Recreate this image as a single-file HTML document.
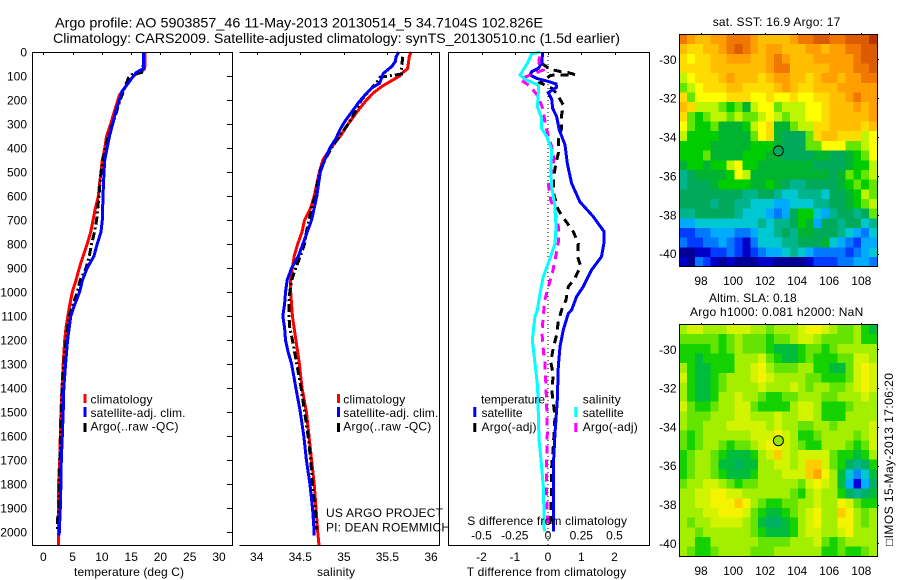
<!DOCTYPE html>
<html>
<head>
<meta charset="utf-8">
<title>Argo profile</title>
<style>
html,body{margin:0;padding:0;background:#fff;}
svg{display:block;}
text{font-family:"Liberation Sans",sans-serif;font-size:12px;fill:#000;}
</style>
</head>
<body>
<svg id="fig" xmlns="http://www.w3.org/2000/svg" width="900" height="580" viewBox="0 0 900 580">
<rect width="900" height="580" fill="#fff"/>
<text x="55" y="27.5" style="font-size:14px" textLength="488" lengthAdjust="spacingAndGlyphs">Argo profile: AO 5903857_46 11-May-2013 20130514_5 34.7104S 102.826E</text>
<text x="53" y="43" style="font-size:14px" textLength="567" lengthAdjust="spacingAndGlyphs">Climatology: CARS2009. Satellite-adjusted climatology: synTS_20130510.nc (1.5d earlier)</text>
<g id="marks"></g>
<g id="axes" fill="none" stroke="#000" stroke-width="1" shape-rendering="crispEdges">
<path d="M32.5 52.5H232.5V545.5H32.5Z"/>
<path d="M239.5 52.5H439.5V545.5H239.5"/>
<path d="M448.5 52.5H649.5V545.5H448.5Z"/>
<path d="M679.5 34.5H877.5V266.5H679.5Z"/>
<path d="M679.5 324.5H877.5V556.5H679.5Z"/>
</g>
<g id="ticklabels"></g>
<text x="129" y="576" text-anchor="middle" textLength="110">temperature (deg C)</text>
<text x="336" y="576" text-anchor="middle" textLength="38">salinity</text>
<text x="466.7" y="576" textLength="159.5">T difference from climatology</text>
<text x="467.3" y="525" textLength="159.7">S difference from climatology</text>

<g>
<rect x="83.5" y="394" width="3" height="9" fill="#f00"/>
<rect x="83.5" y="407" width="3" height="10" fill="#00f"/>
<rect x="83.5" y="423" width="3" height="9" fill="#000"/>
<text x="90.5" y="403.5" textLength="62">climatology</text>
<text x="90.5" y="417" textLength="95">satellite-adj. clim.</text>
<text x="90.5" y="430.5" textLength="88">Argo(..raw -QC)</text>
</g>
<g>
<rect x="337" y="394" width="3" height="9" fill="#f00"/>
<rect x="337" y="407" width="3" height="10" fill="#00f"/>
<rect x="337" y="423" width="3" height="9" fill="#000"/>
<text x="343.3" y="403.5" textLength="62">climatology</text>
<text x="343.3" y="417" textLength="95">satellite-adj. clim.</text>
<text x="343.3" y="430.5" textLength="88">Argo(..raw -QC)</text>
</g>
<g>
<rect x="473.3" y="407" width="3" height="10" fill="#00f"/>
<rect x="473.3" y="423" width="3" height="9" fill="#000"/>
<rect x="574.3" y="407" width="3" height="10" fill="#0ff"/>
<rect x="574.3" y="423" width="3" height="9" fill="#f0f"/>
<text x="481" y="403.5" textLength="64">temperature</text>
<text x="481.5" y="417" textLength="41">satellite</text>
<text x="481.5" y="431" textLength="55">Argo(-adj)</text>
<text x="582.7" y="403.5" textLength="38">salinity</text>
<text x="582.7" y="417" textLength="41">satellite</text>
<text x="582.7" y="431" textLength="55">Argo(-adj)</text>
</g>
<text x="326" y="517" textLength="117">US ARGO PROJECT</text>
<text x="326" y="531.5" textLength="124">PI: DEAN ROEMMICH</text>
<text x="712.7" y="26" textLength="127.6">sat. SST: 16.9 Argo: 17</text>
<text x="709" y="302" textLength="87.7">Altim. SLA: 0.18</text>
<text x="690" y="316" textLength="173.3">Argo h1000: 0.081 h2000: NaN</text>
<text transform="translate(893 546) rotate(-90)" x="0" y="0" textLength="173">□IMOS 15-May-2013 17:06:20</text>
</svg>
<script>
// Depth axis and tick labels
const depthTicks = [0,100,200,300,400,500,600,700,800,900,1000,1100,1200,1300,1400,1500,1600,1700,1800,1900,2000];
const tempTicks = [0,5,10,15,20,25,30];
const salTicks = [34,34.5,35,35.5,36];
const tDiffTicks = [-2,-1,0,1,2];
const sDiffTicks = [-0.5,-0.25,0,0.25,0.5];
const lonTicks = [98,100,102,104,106,108];
const latTicks = [-30,-32,-34,-36,-38,-40];

// Temperature profiles (deg C)
const tempClimDepth = [0,50,70,100,130,180,250,300,350,400,450,500,550,600,650,700,750,800,850,900,950,1000,1050,1100,1150,1200,1300,1400,1500,1600,1700,1800,1900,2000,2055];
const tempClimValues = [17.36,17.4,17.3,15.4,14.5,13,12.1,11.5,10.8,10.5,10.07,9.85,9.6,9.4,8.9,8.5,8.1,7.5,6.8,6.15,5.6,4.95,4.55,4.2,3.87,3.65,3.4,3.2,3,2.9,2.8,2.6,2.56,2.56,2.56];
const tempSatDepth = [0,50,70,85,100,130,165,200,250,300,350,400,450,500,600,700,750,800,850,900,950,1000,1050,1100,1200,1300,1400,1500,1600,1700,1800,1900,2000,2015];
const tempSatValues = [17.07,17.13,17.07,15.9,15.4,14.5,13.4,13,12.35,11.85,11.3,10.9,10.5,10.36,10.2,10.07,9.85,9.2,8.65,7.5,6.7,6.2,5.4,4.7,4.15,3.8,3.5,3.4,3.25,3.07,3,2.9,2.73,2.7];
const tempArgoDepth = [10,50,85,95,110,130,165,200,250,300,350,400,450,500,600,700,750,800,850,900,950,1000,1050,1100,1200,1300,1400,1500,1600,1700,1800,1900,1950,1990];
const tempArgoValues = [17.1,17.1,16.8,15.1,14.5,14.2,13.7,13.1,12.5,11.8,11.1,10.6,10.2,9.85,9.5,9.1,8.75,8.25,7.85,7.3,6.3,5.8,5.1,4.4,3.9,3.5,3.2,3.1,2.95,2.85,2.75,2.7,2.4,2.4];

// Salinity profiles
const salClimDepth = [0,20,50,70,90,100,115,140,170,200,250,300,350,400,450,500,550,600,650,700,750,800,850,900,950,1000,1100,1200,1300,1400,1500,1600,1700,1800,1900,2000,2055];
const salClimValues = [35.77,35.75,35.74,35.73,35.66,35.64,35.57,35.45,35.34,35.26,35.15,35.05,34.96,34.85,34.76,34.72,34.69,34.66,34.62,34.55,34.52,34.47,34.43,34.41,34.39,34.39,34.41,34.45,34.49,34.52,34.57,34.6,34.63,34.66,34.68,34.7,34.715];
const salSatDepth = [0,20,40,60,90,130,150,180,210,250,290,320,360,400,450,500,600,650,700,750,800,850,900,950,1000,1050,1100,1150,1200,1250,1300,1400,1500,1600,1700,1800,1900,2000,2015];
const salSatValues = [35.63,35.6,35.59,35.55,35.45,35.41,35.32,35.24,35.17,35.09,35.01,34.96,34.91,34.84,34.78,34.73,34.69,34.66,34.63,34.58,34.53,34.48,34.4,34.35,34.33,34.32,34.3,34.32,34.33,34.36,34.4,34.45,34.5,34.54,34.57,34.61,34.64,34.66,34.66];
const salArgoDepth = [20,50,85,92,97,105,125,150,200,250,300,350,400,450,500,600,650,700,750,800,850,900,950,1000,1050,1100,1150,1200,1300,1400,1500,1600,1700,1800,1900,1990];
const salArgoValues = [35.675,35.667,35.66,35.66,35.57,35.415,35.38,35.32,35.2,35.13,35.05,34.95,34.86,34.78,34.72,34.67,34.63,34.6,34.57,34.55,34.5,34.45,34.4,34.38,34.37,34.37,34.38,34.41,34.46,34.51,34.55,34.59,34.62,34.64,34.67,34.69];

// Differences from climatology
const tDiffSatDepth = [0,47,68,82,96,110,121,133,147,169,197,235,269,325,387,464,547,624,686,749,797,853,908,978,1019,1075,1089,1158,1228,1311,1450,1589,1727,1866,1998];
const tDiffSatValues = [-0.16,-0.19,-0.29,-0.49,-0.54,-0.34,-0.04,0.24,0.26,0.01,0.11,0.14,0.26,0.34,0.51,0.58,0.71,0.96,1.36,1.69,1.68,1.61,1.31,1.06,0.86,0.71,0.61,0.46,0.36,0.31,0.28,0.21,0.16,0.16,0.16];
const tDiffArgoDepth = [47,72,81,86,94,97,128,151,172,221,263,318,367,422,485,547,596,658,700,749,797,853,892,943,978,1033,1075,1123,1179,1234,1290,1346,1408,1519,1644,1727,1839,1922,1977];
const tDiffArgoValues = [-0.19,0.06,0.36,0.61,0.81,0.08,-0.24,0.11,0.26,0.46,0.41,0.41,0.31,0.31,0.21,0.16,0.18,0.31,0.51,0.76,0.91,0.89,0.98,0.81,0.61,0.54,0.41,0.31,0.26,0.16,0.08,0.16,0.11,0.21,0.16,0.11,0.11,0.08,0.06];
const sDiffSatDepth = [0,8,47,96,114,138,172,228,276,318,353,408,492,561,644,728,797,860,936,1006,1075,1102,1200,1297,1394,1505,1616,1700,1811,1922,1998];
const sDiffSatValues = [-0.06,-0.123,-0.155,-0.21,-0.173,-0.073,-0.073,-0.08,-0.048,-0.048,-0.01,0.028,0.02,0.028,0.053,0.06,0.053,0.015,-0.035,-0.06,-0.08,-0.098,-0.118,-0.098,-0.078,-0.073,-0.068,-0.053,-0.035,-0.03,-0.028];
const sDiffArgoDepth = [19,47,75,96,114,142,186,235,290,353,394,443,499,554,617,665,728,790,853,915,978,1033,1095,1172,1241,1297,1394,1477,1589,1700,1839,1922,1977];
const sDiffArgoValues = [-0.065,-0.068,-0.035,-0.135,-0.21,-0.135,-0.073,-0.04,-0.023,0.003,0.028,0.045,0.028,0.003,0.02,0.053,0.078,0.078,0.058,0.035,0.003,-0.023,-0.035,-0.045,-0.035,-0.023,-0.015,-0.01,-0.005,-0.01,-0.01,-0.005,0.003];

// Argo float position
const floatLon = [102.826];
const floatLat = [-34.7104];

// SST map, colour-scale levels (0 coldest .. 20 warmest), north to south
const sstRows = [
[17,16,15,15,16,16,17,17,17,16,15,15,15,15,16,17,17,18,18,17,17,18,18,18,19],
[15,14,14,15,15,16,17,18,17,16,15,16,16,15,15,15,16,16,15,16,16,17,17,18,18],
[14,13,14,14,15,15,16,16,16,15,15,16,17,16,15,15,15,16,16,16,16,16,17,18,18],
[14,14,14,14,15,15,15,15,15,15,15,16,17,17,15,15,15,15,15,16,16,16,17,17,18],
[12,13,14,14,14,15,16,15,15,15,14,15,16,16,15,15,14,15,16,16,15,16,16,17,17],
[11,12,13,14,14,14,15,15,14,14,14,14,15,16,15,14,14,15,15,15,16,16,16,16,16],
[14,11,13,13,13,13,14,14,14,13,13,14,13,13,14,13,13,14,14,15,15,16,17,16,16],
[15,14,12,12,12,11,10,11,9,12,13,13,11,12,12,12,13,13,14,15,15,15,16,15,16],
[14,11,10,11,12,12,11,12,11,11,12,13,12,11,12,12,13,13,14,15,15,15,15,15,16],
[13,11,10,10,11,9,9,9,10,12,13,14,9,9,11,12,12,14,14,15,15,15,15,14,15],
[12,10,10,10,10,9,9,9,9,11,13,14,9,8,8,8,11,14,15,15,14,14,14,12,13],
[10,10,10,10,9,9,9,9,9,10,10,10,9,8,8,8,11,11,13,13,13,11,11,12,13],
[10,10,10,11,9,9,9,9,10,10,10,9,9,8,8,8,8,9,9,8,8,9,10,11,13],
[9,10,10,9,10,10,12,13,10,10,9,9,9,9,9,9,9,8,8,8,8,9,10,10,12],
[7,8,9,9,9,9,10,13,12,9,9,9,9,9,9,9,9,9,9,8,9,11,10,11,12],
[7,8,8,8,9,10,10,10,10,9,9,10,9,8,7,7,8,8,8,8,9,10,11,10,11],
[8,8,8,8,8,8,8,8,7,7,8,8,7,6,6,7,7,7,6,8,8,9,10,12,11],
[8,8,8,8,7,8,8,7,7,6,6,6,5,5,6,6,6,7,7,8,8,9,10,11,12],
[7,7,8,8,8,8,8,7,6,6,6,5,4,5,8,10,10,6,5,7,8,8,7,8,11],
[5,5,6,6,6,6,6,6,6,6,7,6,7,7,8,10,9,5,8,8,7,8,8,6,7],
[3,3,4,4,5,5,5,4,4,5,6,6,7,8,7,9,9,8,8,8,7,6,5,4,6],
[4,3,3,4,4,5,4,3,2,4,6,6,6,7,7,8,8,8,9,6,5,4,3,5,5],
[1,1,2,2,3,3,4,3,2,3,4,5,5,6,7,6,5,4,4,4,4,3,4,5,6],
[2,1,4,3,2,1,2,1,1,1,2,2,1,1,1,1,2,3,3,3,4,4,5,5,4]
];

// Sea level anomaly map, colour-scale levels, north to south
const slaRows = [
[12,13,13,12,12,12,13,13,13,12,12,11,12,12,12,13,14,14,13,12,11,11,12,10,9],
[11,11,11,11,11,10,11,12,11,11,11,10,11,11,12,13,13,12,11,11,11,11,12,10,10],
[10,10,10,10,11,10,11,12,11,11,11,10,9,9,9,10,11,11,10,11,12,12,12,12,12],
[10,10,9,10,10,10,10,12,12,12,13,11,10,9,9,10,11,10,10,10,11,11,13,13,12],
[12,10,9,9,10,10,10,12,12,13,14,12,11,11,11,12,12,10,10,9,9,11,13,14,13],
[13,10,9,9,10,11,12,12,12,13,14,13,12,12,12,12,11,11,10,10,10,11,13,14,13],
[12,10,9,9,10,11,12,12,12,12,13,12,12,12,13,12,11,12,12,11,11,12,13,14,13],
[12,10,9,9,10,12,12,13,12,12,11,10,10,11,11,12,12,12,11,11,12,12,12,13,12],
[13,11,10,10,11,12,12,13,13,11,10,10,10,10,12,13,13,12,10,10,10,11,12,12,12],
[12,11,11,11,12,12,12,13,13,12,12,12,13,12,12,13,13,12,10,10,10,12,12,12,12],
[12,11,11,12,12,12,13,13,13,13,13,12,13,12,12,11,11,12,12,11,12,12,12,12,13],
[11,10,11,12,12,12,12,12,12,13,13,13,14,13,12,10,10,11,12,12,12,12,11,12,13],
[11,10,11,12,12,11,10,11,11,12,13,14,14,13,12,11,10,10,12,12,12,11,10,11,13],
[10,11,12,12,11,10,9,9,9,10,12,13,15,13,12,13,13,13,13,11,10,10,9,10,12],
[10,11,12,12,11,9,9,8,9,9,12,12,13,13,12,13,15,15,13,11,10,8,7,8,10],
[10,11,12,12,11,10,9,9,9,10,12,12,12,13,13,13,15,16,14,12,9,6,4,6,9],
[11,12,12,13,13,12,11,10,11,11,12,12,12,12,12,11,13,14,13,12,9,5,2,5,8],
[12,12,13,13,14,14,13,13,12,12,12,12,12,12,11,10,12,13,12,12,10,8,7,8,9],
[12,12,13,13,14,14,14,15,14,12,11,10,10,11,11,12,12,13,12,12,14,13,11,10,10],
[12,12,12,13,13,14,14,14,13,11,10,9,9,10,11,12,13,14,12,12,15,14,12,11,12],
[12,11,12,12,13,13,13,13,12,11,9,8,8,9,10,12,13,14,12,12,14,14,12,11,12],
[12,12,11,12,12,12,12,12,12,11,10,9,9,9,10,12,13,13,12,12,13,14,12,12,12],
[12,12,10,10,12,12,12,12,12,12,11,11,11,11,12,12,12,13,11,10,11,12,12,12,12],
[12,11,10,10,11,12,12,12,12,11,11,11,12,12,12,12,12,12,10,10,11,10,10,11,12]
];

// Axis functions
const yDepth = d => 52 + d * 0.24;
const xTemp = v => 43.3 + 5.857 * v;
const xSal = v => 256.7 + 87.15 * (v - 34);
const xTDiff = v => 548 + 33.25 * v;
const xSDiff = v => 548 + 133 * v;
const xLon = v => 701 + 16.03 * (v - 98);
const ySst = v => 59.3 + 19.44 * (-30 - v);
const ySla = v => 349.3 + 19.4 * (-30 - v);
const lonMin = 96.63, lonMax = 108.98, latTop = -28.72, latBottom = -40.67;

const NS = 'http://www.w3.org/2000/svg';
const marks = document.getElementById('marks');
const axes = document.getElementById('axes');
const ticklabels = document.getElementById('ticklabels');

const sstPalette = ['#000078','#000096','#0000c8','#003cff','#0078ff','#00aaff','#00c8d2','#00b48c','#00aa5a','#00b432','#00cd00','#64e600','#beF500','#ffff00','#ffdc00','#ffbe00','#ffa000','#f07800','#dc5a00','#be3200','#960000'];
const slaPalette = ['#000078','#000096','#0000e0','#003cff','#0088ff','#00b0ff','#00c8d2','#00b48c','#00b064','#00bc3c','#14d200','#64e400','#a4ee00','#d2f400','#f4f400','#ffcc00','#ffa800','#f07800','#dc5a00','#be3200','#960000'];

function drawProfile(depths, values, xFn, color, width, dash, name) {
  const el = document.createElementNS(NS, 'polyline');
  
  
  el.setAttribute('points', values.map((v, i) => xFn(v).toFixed(1) + ',' + yDepth(depths[i]).toFixed(1)).join(' '));
  el.setAttribute('fill', 'none');
  el.setAttribute('stroke', color);
  el.setAttribute('stroke-width', width);
  if (dash) el.setAttribute('stroke-dasharray', dash);
  el.setAttribute('shape-rendering', 'crispEdges');
  marks.appendChild(el);
}

function drawMap(rows, yFn, palette, prefix) {
  const nr = rows.length;
  rows.forEach((row, r) => {
    const nc = row.length;
    const top = latTop + (latBottom - latTop) * r / nr;
    const bottom = latTop + (latBottom - latTop) * (r + 1) / nr;
    row.forEach((v, c) => {
      const left = lonMin + (lonMax - lonMin) * c / nc;
      const right = lonMin + (lonMax - lonMin) * (c + 1) / nc;
      const el = document.createElementNS(NS, 'rect');
      
      
      el.setAttribute('x', xLon(left).toFixed(2));
      el.setAttribute('y', yFn(top).toFixed(2));
      el.setAttribute('width', (xLon(right) - xLon(left)).toFixed(2));
      el.setAttribute('height', (yFn(bottom) - yFn(top)).toFixed(2));
      el.setAttribute('fill', palette[Math.max(0, Math.min(20, Math.round(v)))]);
      el.setAttribute('shape-rendering', 'crispEdges');
      marks.appendChild(el);
    });
  });
}

function drawFloat(yFn, fill, name) {
  const el = document.createElementNS(NS, 'circle');
  
  
  el.setAttribute('cx', xLon(floatLon[0]).toFixed(1));
  el.setAttribute('cy', yFn(floatLat[0]).toFixed(1));
  el.setAttribute('r', 5);
  el.setAttribute('fill', fill);
  el.setAttribute('stroke', '#000');
  el.setAttribute('stroke-width', 1);
  marks.appendChild(el);
}

function tick(x1, y1, x2, y2) {
  const el = document.createElementNS(NS, 'line');
  
  
  el.setAttribute('x1', x1);
  el.setAttribute('y1', y1);
  el.setAttribute('x2', x2);
  el.setAttribute('y2', y2);
  axes.appendChild(el);
}

function tickLabel(str, x, y, anchor) {
  const el = document.createElementNS(NS, 'text');
  
  
  el.setAttribute('x', x.toFixed(1));
  el.setAttribute('y', y.toFixed(1));
  el.setAttribute('text-anchor', anchor);
  el.textContent = str;
  ticklabels.appendChild(el);
}

// Maps
drawMap(sstRows, ySst, sstPalette, 'sst');
drawMap(slaRows, ySla, slaPalette, 'sla');
drawFloat(ySst, '#00aa5a', 'argo-position-sst');
drawFloat(ySla, '#96e600', 'argo-position-sla');

// Temperature panel
drawProfile(tempClimDepth, tempClimValues, xTemp, '#f00', 3, null, 'temperature-climatology-line');
drawProfile(tempArgoDepth, tempArgoValues, xTemp, '#000', 3, '8 3 2 3', 'temperature-argo-line');
drawProfile(tempSatDepth, tempSatValues, xTemp, '#00f', 3, null, 'temperature-satellite-line');

// Salinity panel
drawProfile(salClimDepth, salClimValues, xSal, '#f00', 3, null, 'salinity-climatology-line');
drawProfile(salArgoDepth, salArgoValues, xSal, '#000', 3, '8 3 2 3', 'salinity-argo-line');
drawProfile(salSatDepth, salSatValues, xSal, '#00f', 3, null, 'salinity-satellite-line');

// Difference panel
const zero = document.createElementNS(NS, 'line');


zero.setAttribute('x1', xTDiff(0));
zero.setAttribute('x2', xTDiff(0));
zero.setAttribute('y1', 52);
zero.setAttribute('y2', 545);
zero.setAttribute('stroke', '#000');
zero.setAttribute('stroke-width', 1);
zero.setAttribute('stroke-dasharray', '1 3');
zero.setAttribute('shape-rendering', 'crispEdges');
marks.appendChild(zero);
drawProfile(tDiffArgoDepth, tDiffArgoValues, xTDiff, '#000', 3, '8 6', 't-difference-argo-line');
drawProfile(tDiffSatDepth, tDiffSatValues, xTDiff, '#00f', 3, null, 't-difference-satellite-line');
drawProfile(sDiffArgoDepth, sDiffArgoValues, xSDiff, '#f0f', 3, '8 6', 's-difference-argo-line');
drawProfile(sDiffSatDepth, sDiffSatValues, xSDiff, '#0ff', 3, null, 's-difference-satellite-line');

// Ticks and labels
depthTicks.forEach(d => {
  const y = Math.round(yDepth(d)) + 0.5;
  tick(227, y, 232, y);
  tickLabel(String(d), 27, yDepth(d) + 4.5, 'end');
});
tempTicks.forEach(v => {
  const x = Math.round(xTemp(v)) + 0.5;
  tick(x, 52, x, 55);
  tickLabel(String(v), xTemp(v), 561, 'middle');
});
salTicks.forEach(v => {
  const x = Math.round(xSal(v)) + 0.5;
  tick(x, 52, x, 55);
  tickLabel(String(v), xSal(v), 561, 'middle');
});
tDiffTicks.forEach(v => {
  const x = Math.round(xTDiff(v)) + 0.5;
  tick(x, 52, x, 55);
  tickLabel(String(v), xTDiff(v), 561, 'middle');
});
sDiffTicks.forEach(v => {
  tickLabel(String(v), xSDiff(v), 539.5, 'middle');
});
lonTicks.forEach(v => {
  const x = Math.round(xLon(v)) + 0.5;
  tick(x, 33, x, 34);
  tick(x, 323, x, 324);
  tickLabel(String(v), xLon(v), 285, 'middle');
  tickLabel(String(v), xLon(v), 575, 'middle');
});
latTicks.forEach(v => {
  const y1 = Math.round(ySst(v)) + 0.5;
  const y2 = Math.round(ySla(v)) + 0.5;
  tick(877, y1, 879, y1);
  tick(877, y2, 879, y2);
  tickLabel(String(v), 676.5, ySst(v) + 4.5, 'end');
  tickLabel(String(v), 676.5, ySla(v) + 4.5, 'end');
});
</script>
</body>
</html>
